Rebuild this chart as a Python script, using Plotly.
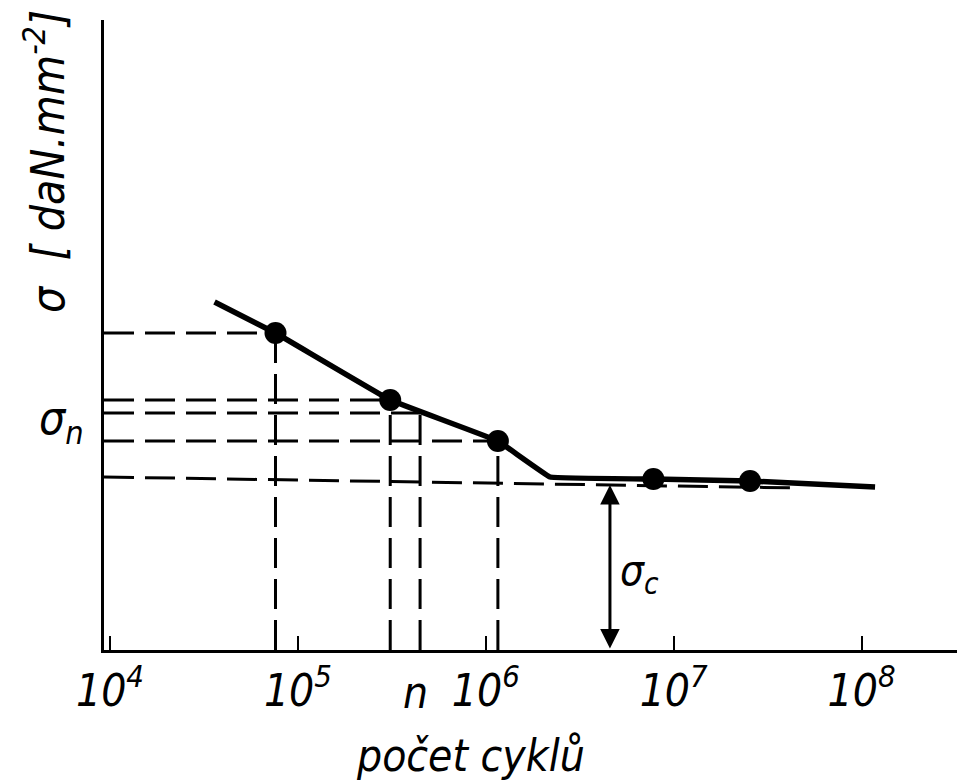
import numpy as np
import plotly.graph_objects as go

# ---- data ----
x_tick_vals = [1e4, 1e5, 1e6, 1e7, 1e8]
x_tick_text = ["<i>10<sup>4</sup></i>", "<i>10<sup>5</sup></i>",
               "<i>10<sup>6</sup></i>", "<i>10<sup>7</sup></i>", "<i>10<sup>8</sup></i>"]

test_cycles = [7.6e4, 3.1e5, 1.16e6, 7.8e6, 2.55e7]
test_stress = [31.7, 25.0, 20.9, 17.1, 16.9]

curve_cycles = [3.6e4, 7.6e4, 3.1e5, 1.16e6, 2.2e6, 7.8e6, 2.55e7, 1.18e8]
curve_stress = [34.8, 31.7, 25.0, 20.9, 17.3, 17.1, 16.9, 16.3]

n_cycles = 4.47e5
sigma_n = 23.7

X_RANGE_LOG = [3.968, 8.508]
Y_RANGE = [0, 63]
X_MIN = 10 ** X_RANGE_LOG[0]

limit_cycles = [X_MIN, 4.7e7]
limit_stress = [17.3, 16.2]

sigma_c_cycles = 4.58e6
sigma_c = 16.5

FONT = "Liberation Sans Narrow, DejaVu Sans Condensed, Arial Narrow, sans-serif"
DASH = "30px,11px"

fig = go.Figure()

# dashed guide lines from test points (first three) to both axes
for cx, sy in zip(test_cycles[:3], test_stress[:3]):
    fig.add_trace(go.Scatter(x=[X_MIN, cx], y=[sy, sy], mode="lines",
                             line=dict(color="black", width=3, dash=DASH),
                             hoverinfo="skip"))
    fig.add_trace(go.Scatter(x=[cx, cx], y=[0, sy], mode="lines",
                             line=dict(color="black", width=3, dash=DASH),
                             hoverinfo="skip"))

# sigma_n guide lines
fig.add_trace(go.Scatter(x=[X_MIN, n_cycles], y=[sigma_n, sigma_n], mode="lines",
                         line=dict(color="black", width=3, dash=DASH), hoverinfo="skip"))
fig.add_trace(go.Scatter(x=[n_cycles, n_cycles], y=[0, sigma_n], mode="lines",
                         line=dict(color="black", width=3, dash=DASH), hoverinfo="skip"))

# fatigue-limit dashed line
fig.add_trace(go.Scatter(x=limit_cycles, y=limit_stress, mode="lines",
                         line=dict(color="black", width=3, dash=DASH), hoverinfo="skip"))

# S-N curve
fig.add_trace(go.Scatter(x=curve_cycles, y=curve_stress, mode="lines",
                         line=dict(color="black", width=5.5, shape="spline", smoothing=0.15),
                         hoverinfo="skip"))

# test points
fig.add_trace(go.Scatter(x=test_cycles, y=test_stress, mode="markers",
                         marker=dict(color="black", size=22), hoverinfo="skip"))

annotations = [
    # sigma_c double arrow
    dict(x=np.log10(sigma_c_cycles), y=sigma_c, ax=np.log10(sigma_c_cycles), ay=0,
         xref="x", yref="y", axref="x", ayref="y", text="", showarrow=True,
         arrowhead=2, arrowside="end+start", arrowwidth=3, arrowsize=1.3,
         arrowcolor="black", standoff=0, startstandoff=0),
    dict(x=np.log10(sigma_c_cycles), y=7.7, xref="x", yref="y", xshift=30,
         xanchor="center", yanchor="middle",
         text="<i>σ<sub>c</sub></i>", showarrow=False,
         font=dict(family=FONT, size=42, color="black")),
    dict(x=np.log10(n_cycles), y=0, xref="x", yref="y", xshift=-5, yshift=-42,
         xanchor="center", yanchor="middle",
         text="<i>n</i>", showarrow=False,
         font=dict(family=FONT, size=44, color="black")),
    dict(x=-0.05, y=sigma_n, xref="paper", yref="y", yshift=-8,
         xanchor="center", yanchor="middle",
         text="<i>σ<sub>n</sub></i>", showarrow=False,
         font=dict(family=FONT, size=46, color="black")),
    dict(x=-0.07, y=0.775, xref="paper", yref="paper", textangle=-90,
         xanchor="center", yanchor="middle",
         text="<i>σ  [ daN.mm<sup>-2</sup>]</i>", showarrow=False,
         font=dict(family=FONT, size=46, color="black")),
    dict(x=0.43, y=-0.167, xref="paper", yref="paper",
         xanchor="center", yanchor="middle",
         text="<i>počet cyklů</i>", showarrow=False,
         font=dict(family=FONT, size=44, color="black")),
]

fig.update_layout(
    width=957, height=783,
    margin=dict(l=104, r=0, t=20, b=133),
    paper_bgcolor="white", plot_bgcolor="white",
    showlegend=False,
    annotations=annotations,
    xaxis=dict(type="log", range=X_RANGE_LOG, showgrid=False, zeroline=False,
               showline=True, linewidth=3, linecolor="black",
               ticks="inside", ticklen=14, tickwidth=2, tickcolor="black",
               tickvals=x_tick_vals, ticktext=x_tick_text,
               tickfont=dict(family=FONT, size=44, color="black")),
    yaxis=dict(range=Y_RANGE, showgrid=False, zeroline=False, showline=True,
               linewidth=3, linecolor="black", showticklabels=False, ticks=""),
)

fig.write_html("out.html")
